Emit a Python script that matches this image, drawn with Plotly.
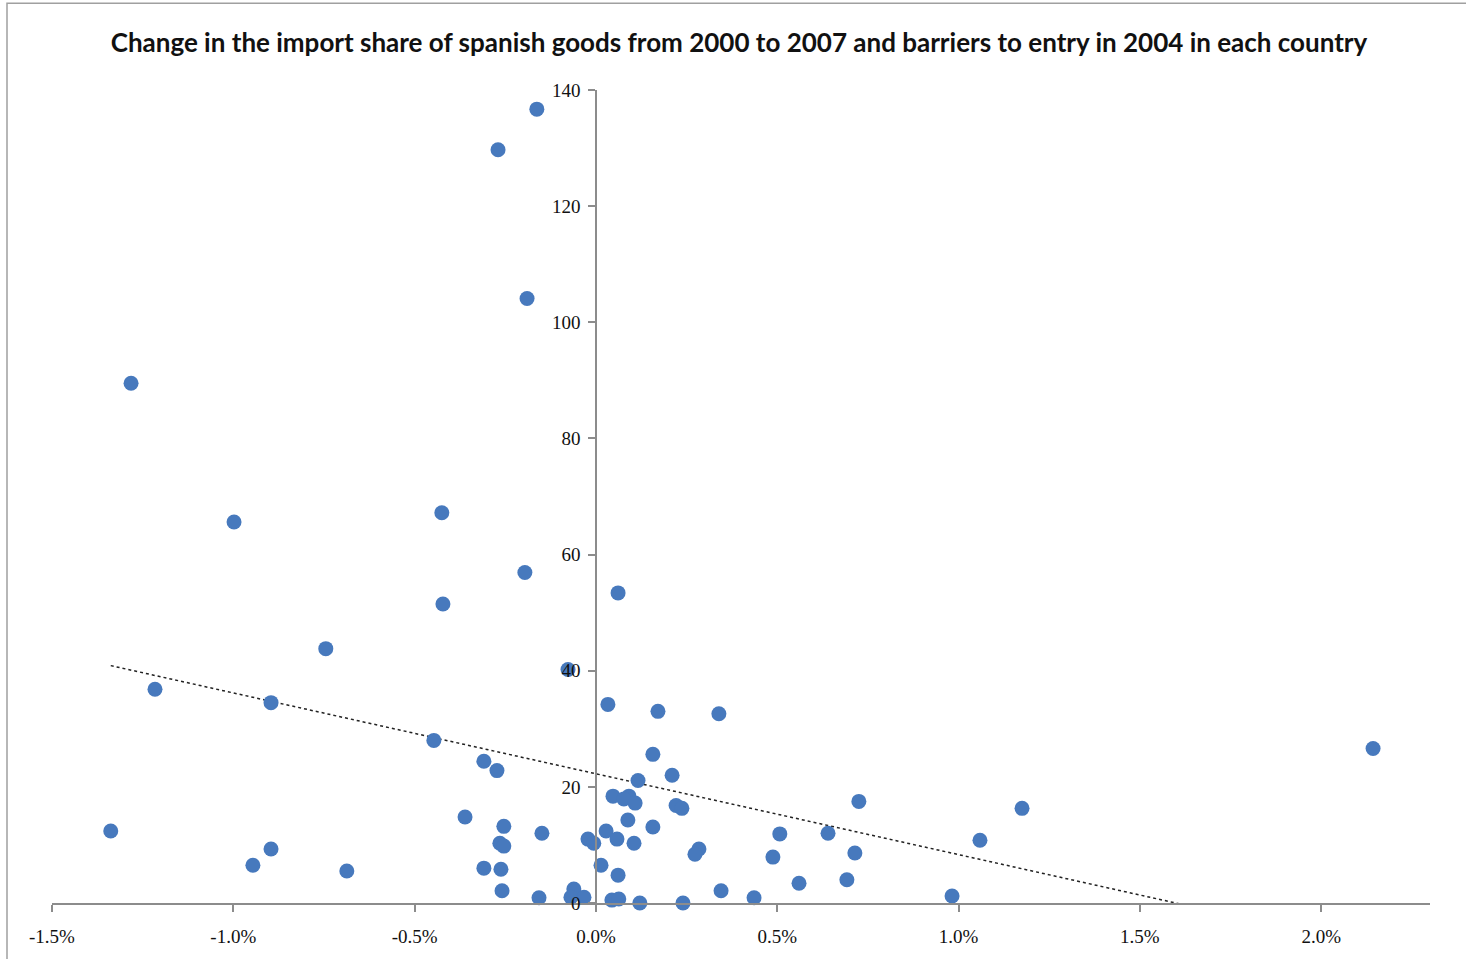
import numpy as np
import plotly.graph_objects as go

# Change in import share of Spanish goods 2000-2007 (fraction, shown as %)
x_change = [
    -0.00163, -0.00270, -0.00190, -0.01282, -0.00998, -0.00425, -0.00196, -0.00422,
    0.00061, -0.00745, -0.00077, -0.01216, -0.00896, 0.00033, 0.00171, 0.00339,
    -0.00447, 0.02143, 0.00157, -0.00309, -0.00273, 0.00210, 0.00116, 0.00047,
    0.00091, 0.00077, 0.00108, 0.00221, 0.00237, 0.00725, 0.01175, -0.00361,
    0.00088, -0.01338, -0.00254, -0.00149, 0.00028, 0.00157, 0.00507, 0.00640,
    -0.00022, -0.00006, 0.00058, 0.00105, 0.01059, -0.00265, -0.00254, -0.00896,
    0.00284, 0.00273, 0.00488, 0.00714, 0.00014, -0.00946, -0.00309, -0.00262,
    -0.00687, 0.00061, 0.00692, 0.00560, -0.00259, -0.00061, 0.00345, -0.00157,
    -0.00069, -0.00033, 0.00044, 0.00063, 0.00436, 0.00982, 0.00121, 0.00240,
]
# Barriers to entry in 2004
y_barriers = [
    136.7, 129.7, 104.1, 89.5, 65.6, 67.2, 56.9, 51.5,
    53.4, 43.8, 40.2, 36.8, 34.5, 34.2, 33.0, 32.6,
    28.0, 26.6, 25.6, 24.4, 22.8, 22.0, 21.1, 18.4,
    18.4, 17.9, 17.2, 16.8, 16.3, 17.5, 16.3, 14.8,
    14.3, 12.4, 13.2, 12.0, 12.4, 13.1, 11.9, 12.0,
    11.0, 10.3, 11.0, 10.3, 10.8, 10.3, 9.8, 9.3,
    9.3, 8.4, 7.9, 8.6, 6.5, 6.5, 6.0, 5.8,
    5.5, 4.8, 4.0, 3.4, 2.1, 2.4, 2.1, 0.9,
    1.0, 1.0, 0.5, 0.7, 0.9, 1.2, 0.0, 0.0,
]

x_tickvals = [-0.015, -0.01, -0.005, 0.0, 0.005, 0.01, 0.015, 0.02]
x_ticktext = ["-1.5%", "-1.0%", "-0.5%", "0.0%", "0.5%", "1.0%", "1.5%", "2.0%"]
y_tickvals = [0, 20, 40, 60, 80, 100, 120, 140]

title_text = ("Change in the import share of spanish goods from 2000 to 2007 "
              "and barriers to entry in 2004 in each country")

x_range = [-0.015, 0.023]
y_range = [0, 140]

# Linear trendline (least squares) over the data
xa = np.array(x_change)
ya = np.array(y_barriers)
slope, intercept = np.polyfit(xa, ya, 1)
trend_x = np.array([xa.min(), xa.max()])
trend_y = slope * trend_x + intercept

fig = go.Figure()
fig.add_trace(go.Scatter(
    x=trend_x, y=trend_y, mode="lines",
    line=dict(color="#222222", width=1.5, dash="dot"),
    hoverinfo="skip", showlegend=False,
))
fig.add_trace(go.Scatter(
    x=x_change, y=y_barriers, mode="markers",
    marker=dict(color="#4779bd", size=15, line=dict(width=0)),
    cliponaxis=False, showlegend=False,
))

yaxis_pos = (0 - x_range[0]) / (x_range[1] - x_range[0])

W, H = 1466, 959
L, R, T, B = 52, 36, 90, 54
pw, ph = W - L - R, H - T - B

fig.update_layout(
    width=W, height=H,
    margin=dict(l=L, r=R, t=T, b=B),
    paper_bgcolor="white", plot_bgcolor="white",
    title=dict(text=title_text, x=739 / W, xanchor="center", y=1 - 43 / H, yanchor="middle",
               font=dict(family="Lato", size=26, color="#111111", weight="bold")),
    xaxis=dict(
        range=x_range, tickvals=x_tickvals, ticktext=x_ticktext,
        showgrid=False, zeroline=False, showline=True, linecolor="#8c8c8c", linewidth=1.5,
        ticks="outside", ticklen=7, tickcolor="#8c8c8c", tickwidth=1.5,
        ticklabelstandoff=8,
        tickfont=dict(family="Liberation Serif", size=19, color="#111111"),
        fixedrange=True,
    ),
    yaxis=dict(
        range=y_range, tickvals=y_tickvals, anchor="free", position=yaxis_pos,
        showgrid=False, zeroline=False, showline=True, linecolor="#8c8c8c", linewidth=1.5,
        ticks="outside", ticklen=7, tickcolor="#8c8c8c", tickwidth=1.5,
        ticklabelstandoff=4,
        tickfont=dict(family="Liberation Serif", size=19, color="#111111"),
        fixedrange=True,
    ),
    shapes=[dict(type="rect", xref="paper", yref="paper",
                 x0=(7 - L) / pw, x1=(W + 20 - L) / pw, y0=-(B + 20) / ph, y1=1 + (T - 3) / ph,
                 line=dict(color="#a0a0a0", width=1.5), fillcolor="rgba(0,0,0,0)", layer="below")],
)

fig.write_html("out.html", config={"displayModeBar": False},
               post_script="document.body.style.margin='0';")
